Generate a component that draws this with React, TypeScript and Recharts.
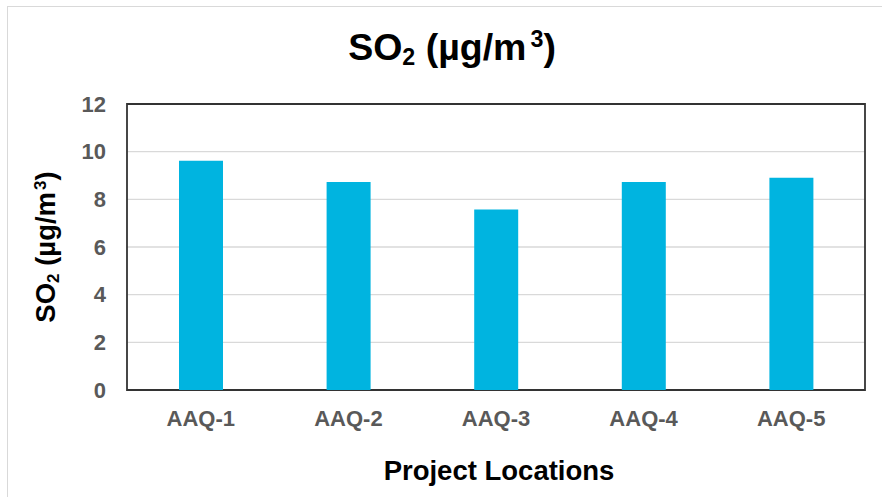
import React from "react";
import {
  BarChart,
  Bar,
  XAxis,
  YAxis,
  CartesianGrid,
  ReferenceArea,
  Label,
} from "recharts";

const categories = ["AAQ-1", "AAQ-2", "AAQ-3", "AAQ-4", "AAQ-5"];
const so2Values = [9.62, 8.73, 7.57, 8.73, 8.91];
const yTicks = [0, 2, 4, 6, 8, 10, 12];

const chartData = categories.map((name, i) => ({ name, so2: so2Values[i] }));

const FONT = "'Liberation Sans', Arial, Helvetica, sans-serif";

const unitParts = () => [
  "SO",
  <tspan key="s" baselineShift={-4} fontSize="62%">2</tspan>,
  " (µg/m",
  <tspan key="p" baselineShift={9} fontSize="62%" dx={2}>3</tspan>,
  ")",
];

const YTitle = (props: any) => {
  const vb = props.viewBox || { x: 0, y: 104, width: 127, height: 286 };
  const x = vb.x + 55;
  const y = vb.y + vb.height / 2;
  return (
    <text
      x={x}
      y={y}
      textAnchor="middle"
      transform={`rotate(-90 ${x} ${y})`}
      fontFamily={FONT}
      fontWeight="bold"
      fontSize={27.5}
      fill="#000"
    >
      {unitParts()}
    </text>
  );
};

const XTitle = (props: any) => {
  const vb = props.viewBox || { x: 127, y: 390, width: 738, height: 107 };
  return (
    <text
      x={vb.x + vb.width / 2 + 3}
      y={vb.y + 90}
      textAnchor="middle"
      fontFamily={FONT}
      fontWeight="bold"
      fontSize={27.5}
      fill="#000"
    >
      Project Locations
    </text>
  );
};

export default function App() {
  return (
    <div
      style={{
        position: "fixed",
        left: 0,
        top: 0,
        width: 882,
        height: 497,
        overflow: "hidden",
        background: "#fff",
        fontFamily: FONT,
      }}
    >
      <div
        style={{
          position: "absolute",
          left: 7,
          top: 6,
          width: 900,
          height: 520,
          border: "1.5px solid #d9d9d9",
          boxSizing: "border-box",
        }}
      />
      <div
        style={{
          position: "absolute",
          left: 0,
          top: 29,
          width: 904,
          textAlign: "center",
          fontSize: 37.5,
          lineHeight: "37px",
          fontWeight: "bold",
          color: "#000",
          whiteSpace: "nowrap",
        }}
      >
        SO<span style={{ fontSize: "62%", lineHeight: 0, position: "relative", top: "0.2em" }}>2</span> (µg/m
        <span style={{ fontSize: "62%", lineHeight: 0, position: "relative", top: "-0.55em", marginLeft: 4 }}>3</span>)
      </div>
      <div style={{ position: "absolute", left: 0, top: 0 }}>
        <BarChart
          width={882}
          height={497}
          data={chartData}
          margin={{ top: 104, right: 17, left: 0, bottom: 0 }}
          barSize={44}
        >
          <CartesianGrid
            vertical={false}
            stroke="#d9d9d9"
            strokeWidth={1.4}
          />
          <XAxis
            dataKey="name"
            height={107}
            tickLine={false}
            axisLine={false}
            tickMargin={14}
            tick={{ fill: "#595959", fontSize: 22, fontWeight: "bold", fontFamily: FONT }}
          >
            <Label content={<XTitle />} />
          </XAxis>
          <YAxis
            width={127}
            domain={[0, 12]}
            ticks={yTicks}
            interval={0}
            tickLine={false}
            axisLine={false}
            tickMargin={15}
            tick={{ fill: "#595959", fontSize: 22, fontWeight: "bold", fontFamily: FONT }}
          >
            <Label content={<YTitle />} />
          </YAxis>
          <Bar dataKey="so2" fill="#00B4E0" isAnimationActive={false} />
          <ReferenceArea
            y1={0}
            y2={12}
            fill="none"
            stroke="#333333"
            strokeWidth={1.8}
            ifOverflow="extendDomain"
          />
        </BarChart>
      </div>
    </div>
  );
}
